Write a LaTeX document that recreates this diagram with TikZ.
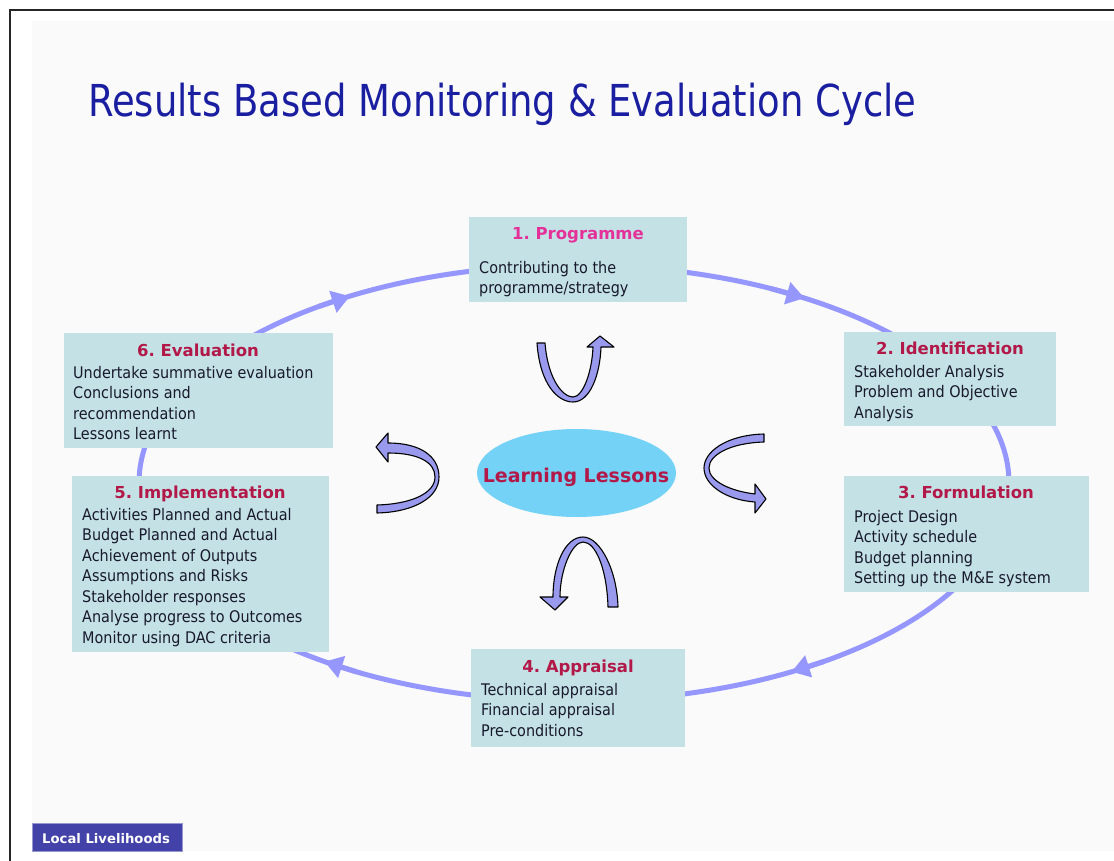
\documentclass[tikz,border=0pt]{standalone}
\usepackage{fontspec}
\setmainfont{DejaVu Sans}[FakeStretch=0.9]
\newfontfamily\titlefont{DejaVu Sans}[FakeStretch=0.84]
\newfontfamily\hfont{DejaVu Sans}
\usetikzlibrary{arrows.meta,calc,shapes.geometric}
\definecolor{slidebg}{RGB}{250,250,250}
\definecolor{boxfill}{RGB}{196,226,230}
\definecolor{ttlred}{RGB}{178,24,72}
\definecolor{ttlpink}{RGB}{228,48,152}
\definecolor{titleblue}{RGB}{26,30,160}
\definecolor{cyclecol}{RGB}{150,150,255}
\definecolor{arrowfill}{RGB}{153,153,238}
\definecolor{ellfill}{RGB}{115,210,245}
\definecolor{badgecol}{RGB}{66,66,168}
\definecolor{bodytext}{RGB}{25,25,45}
\tikzset{
  stagebox/.style={fill=boxfill, draw=none, inner sep=0pt, anchor=north west},
  ttl/.style={anchor=base, inner sep=0pt, text=ttlred, font=\hfont\bfseries\fontsize{16.5}{20}\selectfont},
  bodytxt/.style={anchor=north west, align=left, inner sep=0pt, text=bodytext, font=\fontsize{16}{20.5}\selectfont},
  cyc/.style={draw=cyclecol, line width=5pt},
  cycarrow/.style={cyc, -{Triangle[length=18pt,width=22pt]}},
  uturn/.style={fill=arrowfill, draw=black, line width=1.1pt, line join=round}
}
\begin{document}
\frenchspacing
\begin{tikzpicture}[x=1pt,y=-1pt]
\useasboundingbox (0,0) rectangle (1114,861);
\fill[white] (0,0) rectangle (1114,861);
\fill[slidebg] (32,21) rectangle (1114,851);
\draw[line width=2pt, black!85] (10,861) -- (10,10) -- (1114,10);

% title
\node[anchor=base west, inner sep=0pt, text=titleblue, font=\titlefont\fontsize{44}{50}\selectfont] (title) at (88,117) {Results Based Monitoring \& Evaluation Cycle};

% cycle
\draw[cyc] (574,483) ellipse [x radius=435, y radius=218];
\foreach \a/\b/\n in {126/121/1, 63/58/2, -55/-60/3, -120/-125/4}{
  \coordinate (ca\n) at ({574+435*cos(\a)},{483-218*sin(\a)});
  \coordinate (cb\n) at ({574+435*cos(\b)},{483-218*sin(\b)});
  \draw[cycarrow] (ca\n) -- (cb\n);
}

% boxes
\node[stagebox, minimum width=218pt, minimum height=85pt] (b1) at (469,217) {};
\node[stagebox, minimum width=212pt, minimum height=94pt] (b2) at (844,332) {};
\node[stagebox, minimum width=245pt, minimum height=116pt] (b3) at (844,476) {};
\node[stagebox, minimum width=214pt, minimum height=98pt] (b4) at (471,649) {};
\node[stagebox, minimum width=257pt, minimum height=176pt] (b5) at (72,476) {};
\node[stagebox, minimum width=269pt, minimum height=115pt] (b6) at (64,333) {};

\node[ttl, text=ttlpink] (t1) at (578,240) {1. Programme};
\node[ttl] (t2) at (950,354) {2. Identification};
\node[ttl] (t3) at (966,498) {3. Formulation};
\node[ttl] (t4) at (578,672) {4. Appraisal};
\node[ttl] (t5) at (200,498) {5. Implementation};
\node[ttl] (t6) at (198,356) {6. Evaluation};

\node[bodytxt] (c1) at (479,258.65) {\strut Contributing to the\\programme/strategy};
\node[bodytxt] (c2) at (854,362.65) {\strut Stakeholder Analysis\\Problem and Objective\\Analysis};
\node[bodytxt] (c3) at (854,507.65) {\strut Project Design\\Activity schedule\\Budget planning\\Setting up the M\&E system};
\node[bodytxt] (c4) at (481,680.65) {\strut Technical appraisal\\Financial appraisal\\Pre-conditions};
\node[bodytxt] (c5) at (82,505.65) {\strut Activities Planned and Actual\\Budget Planned and Actual\\Achievement of Outputs\\Assumptions and Risks\\Stakeholder responses\\Analyse progress to Outcomes\\Monitor using DAC criteria};
\node[bodytxt] (c6) at (73,363.65) {\strut Undertake summative evaluation\\Conclusions and\\recommendation\\Lessons learnt};

% centre
\node[ellipse, fill=ellfill, inner sep=0pt, minimum width=199pt, minimum height=88pt] (ll) at (576.5,473) {};
\node[anchor=base, inner sep=0pt, text=ttlred, font=\hfont\bfseries\fontsize{19}{22}\selectfont] (lltext) at (576,482) {Learning Lessons};

% U-turn arrows
\draw[uturn] (537,343) .. controls (540,385) and (558,402) .. (573,402) .. controls (590,402) and (600,375) .. (601,347) -- (614,347) -- (600,336) -- (587,347) -- (593,347) .. controls (592,372) and (583,397) .. (573,397) .. controls (563,397) and (548,380) .. (545,343) -- cycle;
\draw[uturn] (764,434) .. controls (726,435) and (704,452) .. (704,468) .. controls (704,485) and (726,500) .. (755,502) -- (755,513) -- (766,499) -- (755,484) -- (755,494) .. controls (730,491) and (709,481) .. (709,468) .. controls (709,455) and (730,443) .. (764,442) -- cycle;
\draw[uturn] (377,513) .. controls (415,512) and (439,497) .. (439,477) .. controls (439,456) and (420,443) .. (388,443) -- (388,433) -- (376,447) -- (388,462) -- (388,453) .. controls (418,453) and (435,462) .. (435,477) .. controls (435,493) and (412,504) .. (377,505) -- cycle;
\draw[uturn] (618,607) .. controls (617,570) and (600,537) .. (583,537) .. controls (565,537) and (553,565) .. (553,597) -- (540,597) -- (555,610) -- (568,597) -- (560,597) .. controls (560,570) and (572,542) .. (583,542) .. controls (596,542) and (607,570) .. (608,607) -- cycle;

% badge
\node[stagebox, fill=badgecol, draw=badgecol!55!white, line width=0.8pt, minimum width=150pt, minimum height=28pt] (badge) at (32,823) {};
\node[anchor=base west, inner sep=0pt, text=white, font=\hfont\bfseries\fontsize{13.2}{15}\selectfont] (badgetext) at (42,843) {Local Livelihoods};
\end{tikzpicture}
\end{document}
